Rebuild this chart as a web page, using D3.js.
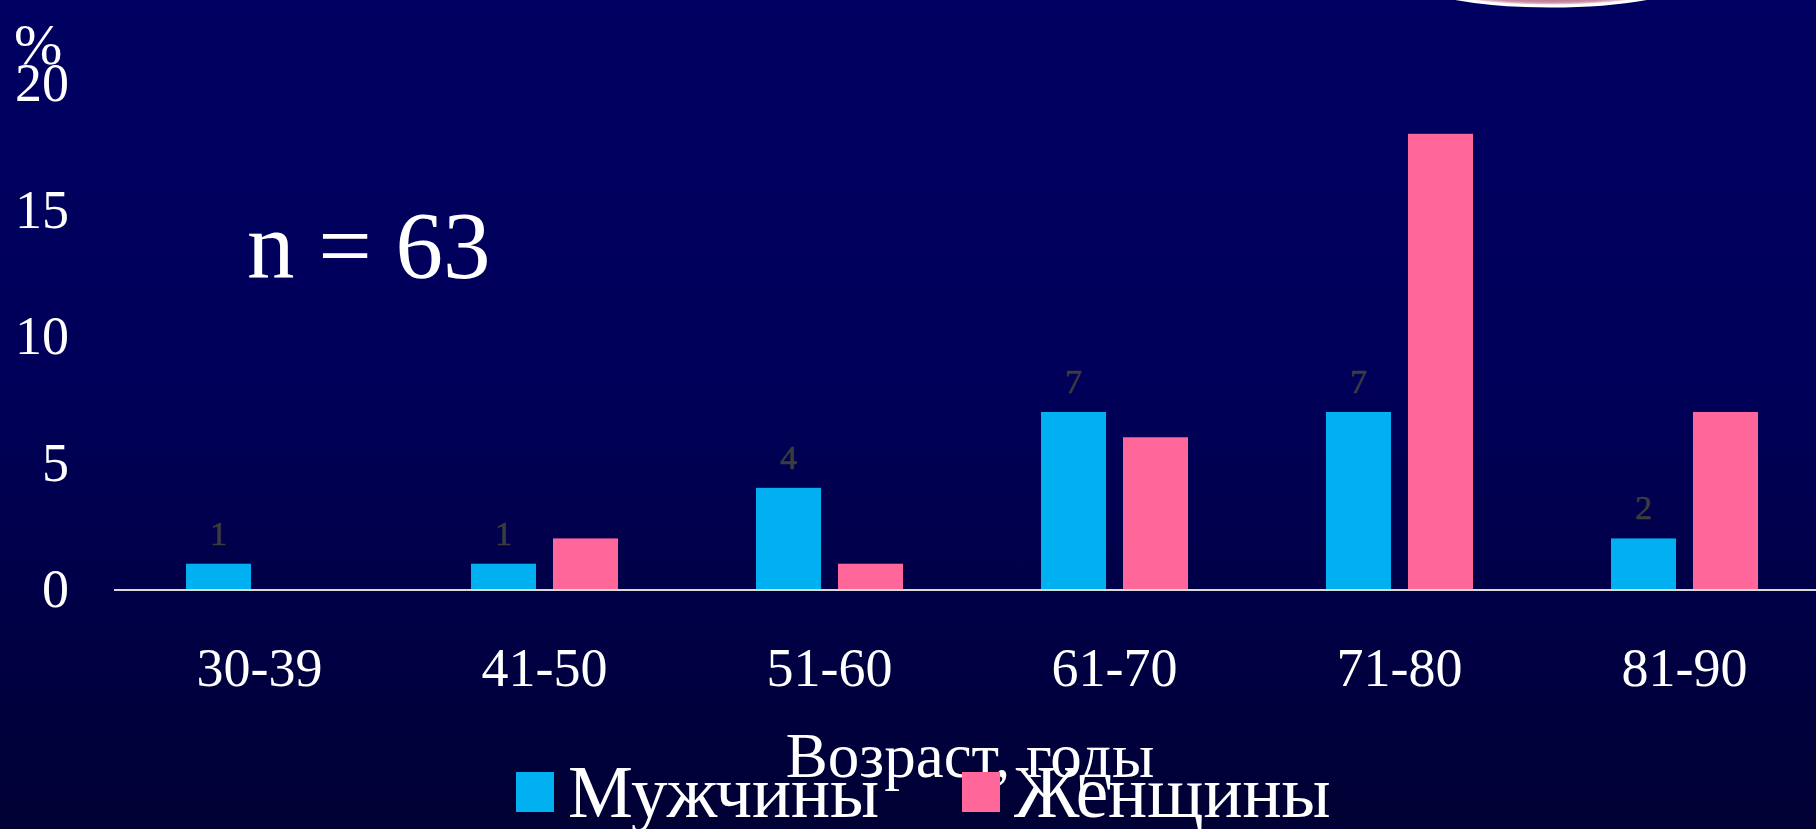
<!DOCTYPE html>
<html lang="ru">
<head>
    <meta charset="UTF-8">
    <script src="https://d3js.org/d3.v7.min.js"></script>
    <title>Возраст, годы</title>
    <style>
        body { margin: 0; background: #000050; overflow: hidden; }
        text { font-family: "Liberation Serif", "Times New Roman", serif; }
    </style>
</head>
<body>
    <div id="chart"></div>
    <script>
        const ageGroups = ["30-39", "41-50", "51-60", "61-70", "71-80", "81-90"];
        const menValues = [1, 1, 4, 7, 7, 2];
        const womenValues = [0, 2, 1, 6, 18, 7];
        const seriesNames = ["Мужчины", "Женщины"];
        const seriesColors = ["#00b0f0", "#ff6699"];
        const yTicks = [0, 5, 10, 15, 20];

        const width = 1816, height = 829;
        const baseY = 589;

        const svg = d3.select("#chart").append("svg")
            .attr("width", width)
            .attr("height", height);

        // background
        const defs = svg.append("defs");
        const bg = defs.append("linearGradient")
            .attr("id", "bg").attr("x1", 0).attr("y1", 0).attr("x2", 0).attr("y2", 1);
        bg.append("stop").attr("offset", "0").attr("stop-color", "#000062");
        bg.append("stop").attr("offset", "0.45").attr("stop-color", "#00005a");
        bg.append("stop").attr("offset", "1").attr("stop-color", "#000034");

        const blob = defs.append("radialGradient").attr("id", "blob");
        blob.append("stop").attr("offset", "0.6").attr("stop-color", "#8c3a58");
        blob.append("stop").attr("offset", "0.9").attr("stop-color", "#c98aa2");
        blob.append("stop").attr("offset", "1").attr("stop-color", "#ffffff");

        svg.append("rect")
            .attr("width", width).attr("height", height)
            .attr("fill", "url(#bg)");

        // decorative shape at the top edge
        svg.append("ellipse")
            .attr("cx", 1551).attr("cy", -32)
            .attr("rx", 160).attr("ry", 38)
            .attr("fill", "url(#blob)")
            .attr("stroke", "#ffffff")
            .attr("stroke-width", 3);

        const x0 = d3.scaleBand()
            .domain(ageGroups)
            .range([116, 116 + 285 * ageGroups.length]);

        const x1 = d3.scaleBand()
            .domain(seriesNames)
            .range([70, 217])
            .paddingInner(0.207);

        const y = d3.scaleLinear()
            .domain([0, 20])
            .range([baseY, baseY - 20 * 25.29]);

        const rows = ageGroups.map((g, i) => ({
            group: g,
            values: [
                { name: seriesNames[0], value: menValues[i] },
                { name: seriesNames[1], value: womenValues[i] }
            ]
        }));

        // bars
        const groups = svg.selectAll(".group")
            .data(rows)
            .enter()
            .append("g")
            .attr("transform", d => `translate(${x0(d.group)},0)`);

        groups.selectAll("rect")
            .data(d => d.values.filter(v => v.value > 0))
            .enter()
            .append("rect")
            .attr("x", d => x1(d.name))
            .attr("y", d => y(d.value))
            .attr("width", x1.bandwidth())
            .attr("height", d => baseY - y(d.value))
            .attr("fill", d => seriesColors[seriesNames.indexOf(d.name)]);

        // value labels (men only)
        groups.append("text")
            .attr("x", x1(seriesNames[0]) + x1.bandwidth() / 2)
            .attr("y", d => y(d.values[0].value) - 19)
            .attr("text-anchor", "middle")
            .attr("font-size", "34px")
            .attr("fill", "#3c3c3c")
            .attr("stroke", "#3c3c3c")
            .attr("stroke-width", 0.6)
            .text(d => d.values[0].value);

        // x axis line
        svg.append("line")
            .attr("x1", 114).attr("x2", width)
            .attr("y1", baseY + 1).attr("y2", baseY + 1)
            .attr("stroke", "#d9d9d9")
            .attr("stroke-width", 2);

        // category labels
        svg.selectAll(".cat")
            .data(ageGroups)
            .enter()
            .append("text")
            .attr("x", d => x0(d) + 143.5)
            .attr("y", 686)
            .attr("text-anchor", "middle")
            .attr("font-size", "54px")
            .attr("fill", "#ffffff")
            .text(d => d);

        // y tick labels
        svg.selectAll(".ytick")
            .data(yTicks)
            .enter()
            .append("text")
            .attr("x", 69)
            .attr("y", d => y(d) + 18)
            .attr("text-anchor", "end")
            .attr("font-size", "54px")
            .attr("fill", "#ffffff")
            .text(d => d);

        svg.append("text")
            .attr("x", 14).attr("y", 64)
            .attr("font-size", "58px")
            .attr("fill", "#ffffff")
            .text("%");

        svg.append("text")
            .attr("x", 247).attr("y", 278)
            .attr("font-size", "95px")
            .attr("fill", "#ffffff")
            .text("n = 63");

        svg.append("text")
            .attr("x", 970).attr("y", 777)
            .attr("text-anchor", "middle")
            .attr("font-size", "63px")
            .attr("fill", "#ffffff")
            .text("Возраст, годы");

        // legend
        const legendX = [516, 962];
        const legend = svg.selectAll(".legend")
            .data(seriesNames)
            .enter()
            .append("g")
            .attr("transform", (d, i) => `translate(${legendX[i]},772)`);

        legend.append("rect")
            .attr("width", 38).attr("height", 40)
            .attr("fill", (d, i) => seriesColors[i]);

        legend.append("text")
            .attr("x", 52).attr("y", 45)
            .attr("font-size", "73px")
            .attr("fill", "#ffffff")
            .text(d => d);
    </script>
</body>
</html>
